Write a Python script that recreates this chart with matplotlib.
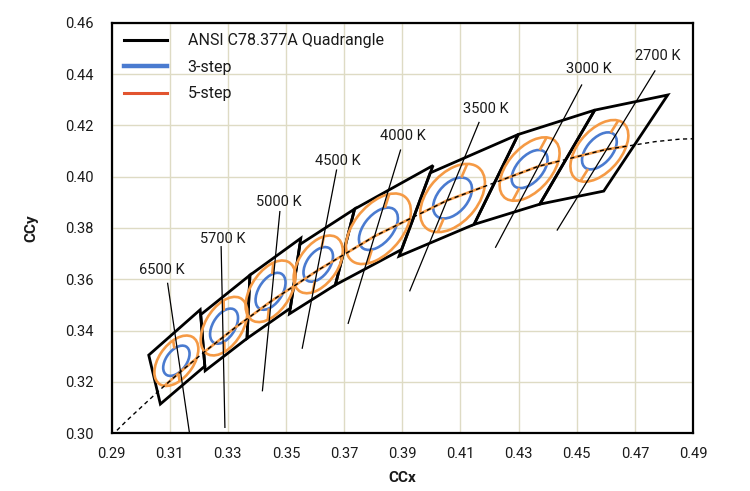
import numpy as np
import matplotlib
matplotlib.use("Agg")
import matplotlib.pyplot as plt
from matplotlib.lines import Line2D
from matplotlib.patches import Ellipse, Polygon

plt.rcParams['font.family'] = ['Roboto', 'DejaVu Sans']

# ---------------- data ----------------
cct_labels = ['6500 K', '5700 K', '5000 K', '4500 K', '4000 K', '3500 K', '3000 K', '2700 K']
# ellipse / quadrangle centres
cx = [0.3123, 0.3287, 0.3447, 0.3611, 0.3818, 0.4073, 0.4338, 0.4578]
cy = [0.3282, 0.3417, 0.3553, 0.3658, 0.3797, 0.3917, 0.4030, 0.4101]
# quadrangle corners: upper-left, upper-right, lower-right, lower-left
quad_x = [
    [0.3028, 0.3205, 0.3221, 0.3068],
    [0.3207, 0.3376, 0.3366, 0.3222],
    [0.3376, 0.3551, 0.3515, 0.3366],
    [0.3548, 0.3736, 0.3670, 0.3512],
    [0.3736, 0.4006, 0.3898, 0.3670],
    [0.3996, 0.4299, 0.4147, 0.3889],
    [0.4299, 0.4562, 0.4373, 0.4147],
    [0.4562, 0.4813, 0.4593, 0.4373],
]
quad_y = [
    [0.3304, 0.3481, 0.3261, 0.3113],
    [0.3462, 0.3616, 0.3369, 0.3243],
    [0.3616, 0.3760, 0.3487, 0.3369],
    [0.3736, 0.3874, 0.3578, 0.3465],
    [0.3874, 0.4044, 0.3716, 0.3578],
    [0.4015, 0.4165, 0.3814, 0.3690],
    [0.4165, 0.4260, 0.3893, 0.3814],
    [0.4260, 0.4319, 0.3944, 0.3893],
]
# one-step ellipse parameters (semi-axes and tilt)
ell_a = [0.00216, 0.00246, 0.00260, 0.00246, 0.00310, 0.00298, 0.00282, 0.00273]
ell_b = [0.00122, 0.00132, 0.00140, 0.00137, 0.00172, 0.00178, 0.00156, 0.00152]
ell_theta = [60.0, 64.0, 63.0, 61.0, 56.5, 56.0, 55.0, 55.4]
steps = [3, 5]

# Planckian locus
locus_x = [0.2807, 0.2952, 0.3064, 0.3135, 0.3221, 0.3325, 0.3451, 0.3611, 0.3805,
           0.4053, 0.4369, 0.4599, 0.4770, 0.4857, 0.5055]
locus_y = [0.2884, 0.3048, 0.3166, 0.3237, 0.3318, 0.3411, 0.3516, 0.3636, 0.3768,
           0.3907, 0.4041, 0.4106, 0.4137, 0.4147, 0.4152]

# leader lines (label side -> far end) and label positions
lead_x1 = [0.3093, 0.3277, 0.3479, 0.3674, 0.3894, 0.4164, 0.4517, 0.4769]
lead_y1 = [0.3584, 0.3727, 0.3864, 0.4026, 0.4104, 0.4212, 0.4358, 0.4413]
lead_x2 = [0.3168, 0.3290, 0.3419, 0.3556, 0.3714, 0.3926, 0.4221, 0.4433]
lead_y2 = [0.3001, 0.3022, 0.3165, 0.3331, 0.3428, 0.3555, 0.3725, 0.3792]
label_x = [0.3072, 0.3282, 0.3474, 0.3677, 0.3901, 0.4188, 0.4542, 0.4780]
label_y = [0.3636, 0.3758, 0.3900, 0.4062, 0.4160, 0.4264, 0.4420, 0.4472]

x_ticks = [0.29, 0.31, 0.33, 0.35, 0.37, 0.39, 0.41, 0.43, 0.45, 0.47, 0.49]
y_ticks = [0.30, 0.32, 0.34, 0.36, 0.38, 0.40, 0.42, 0.44, 0.46]

legend_labels = ['ANSI C78.377A Quadrangle', '3-step', '5-step']

# ---------------- style ----------------
BLUE = '#4A7BD0'
ORANGE = '#F59A45'
LEG_RED = '#E2542F'
GRID = '#DEDBC4'
TXT = '#1a1a1a'
FS = 10.5

fig = plt.figure(figsize=(7.5, 4.91), dpi=100)
ax = fig.add_axes([0.1487, 0.1181, 0.7753, 0.8351])
ax.set_xlim(0.29, 0.49)
ax.set_ylim(0.30, 0.46)
ax.set_xticks(x_ticks)
ax.set_yticks(y_ticks)
ax.set_xticklabels([f'{v:.2f}' for v in x_ticks])
ax.set_yticklabels([f'{v:.2f}' for v in y_ticks])
ax.tick_params(length=0, labelsize=FS, colors=TXT)
ax.tick_params(axis='x', pad=10)
ax.tick_params(axis='y', pad=13)
ax.grid(True, color=GRID, lw=1.0)
ax.set_axisbelow(True)
for s in ax.spines.values():
    s.set_linewidth(1.6)
    s.set_color('black')

# quadrangles
for qx, qy in zip(quad_x, quad_y):
    poly = Polygon(np.column_stack([qx, qy]), closed=True, fill=False,
                   edgecolor='black', lw=2.0, joinstyle='miter', zorder=3)
    ax.add_patch(poly)

# ellipses and orange cross-hairs
for i in range(len(cx)):
    a, b, th = ell_a[i], ell_b[i], ell_theta[i]
    patches = {}
    for s, col in zip(steps, [BLUE, ORANGE]):
        e = Ellipse((cx[i], cy[i]), 2 * s * a, 2 * s * b, angle=th,
                    fill=False, edgecolor=col, lw=1.9, zorder=4)
        ax.add_patch(e)
        patches[s] = e
    # locus inside 5-step ellipse
    ln, = ax.plot(locus_x, locus_y, color=ORANGE, lw=1.9, zorder=4,
                  solid_capstyle='butt')
    ln.set_clip_path(patches[5])
    # isotherm direction (average of quadrangle side edges)
    qx, qy = quad_x[i], quad_y[i]
    d1 = np.array([qx[0] - qx[3], qy[0] - qy[3]])
    d2 = np.array([qx[1] - qx[2], qy[1] - qy[2]])
    d = d1 / np.linalg.norm(d1) + d2 / np.linalg.norm(d2)
    d = d / np.linalg.norm(d)
    t = np.deg2rad(th)
    u = d[0] * np.cos(t) + d[1] * np.sin(t)
    v = -d[0] * np.sin(t) + d[1] * np.cos(t)
    tt = {s: 1.0 / np.sqrt((u / (s * a)) ** 2 + (v / (s * b)) ** 2) for s in steps}
    for sign in (1, -1):
        p1 = np.array([cx[i], cy[i]]) + sign * tt[3] * d
        p2 = np.array([cx[i], cy[i]]) + sign * tt[5] * d
        ax.plot([p1[0], p2[0]], [p1[1], p2[1]], color=ORANGE, lw=1.9, zorder=4,
                solid_capstyle='butt')

# Planckian locus dashed
ax.plot(locus_x, locus_y, color='black', lw=1.0, ls=(0, (3, 2.5)), zorder=5)

# leader lines and labels
for i in range(len(cct_labels)):
    ax.plot([lead_x1[i], lead_x2[i]], [lead_y1[i], lead_y2[i]], color='black',
            lw=0.9, zorder=6)
    ax.text(label_x[i], label_y[i], cct_labels[i], ha='center', va='center',
            fontsize=FS, color=TXT, zorder=7)

# legend
LFS = 11.5
handles = [Line2D([], [], color='black', lw=2.2),
           Line2D([], [], color=BLUE, lw=3.2),
           Line2D([], [], color=LEG_RED, lw=2.2)]
leg = ax.legend(handles, legend_labels, loc='upper left', frameon=False,
                bbox_to_anchor=(0.021, 0.975), borderaxespad=0, borderpad=0,
                handlelength=2.7, handletextpad=1.3, labelspacing=0.72,
                fontsize=LFS)
for t in leg.get_texts():
    t.set_color(TXT)

ax.set_xlabel('CCx', fontsize=11, fontweight='bold', color=TXT, labelpad=7)
ax.set_ylabel('CCy', fontsize=11, fontweight='bold', color=TXT, labelpad=19)

fig.savefig('out.png', dpi=100)
